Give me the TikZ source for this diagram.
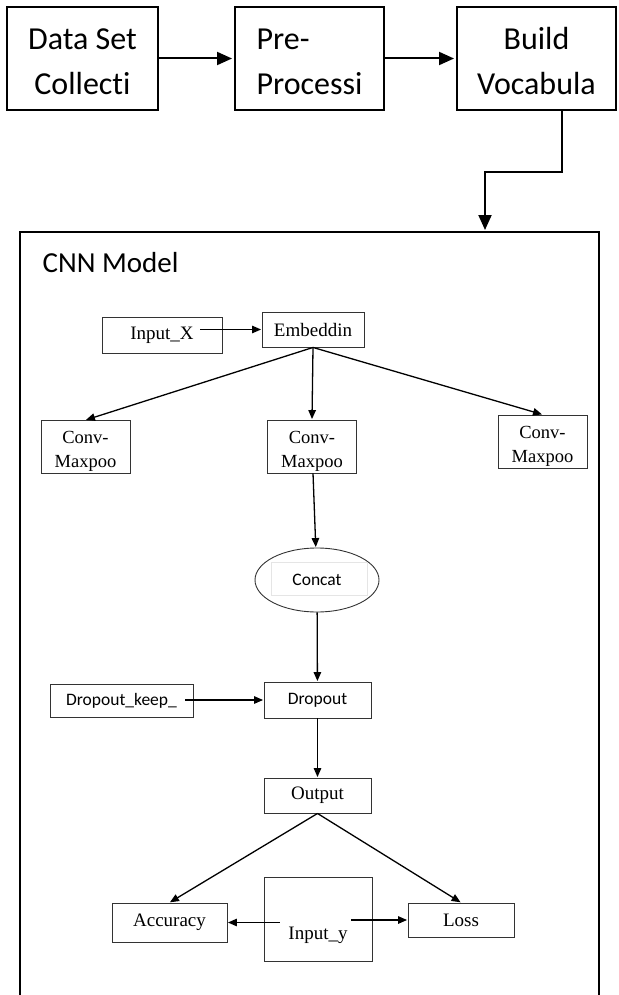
\documentclass[tikz,border=0pt]{standalone}
\usepackage{fontspec}
\setmainfont{Carlito}[Ligatures=NoCommon]
\newfontfamily\timesfont{Liberation Serif}
\usetikzlibrary{arrows.meta,shapes.geometric}

\begin{document}
\begin{tikzpicture}[->,>={Triangle[length=9pt,width=7.5pt]},shorten >=0.5pt,
      x=1pt,y=1pt,line width=1.3pt,node distance=227pt,
      topbox/.style={draw,line width=2pt,minimum width=151pt,minimum height=103pt,
        align=center,text height=73pt,text depth=0pt,font=\fontsize{32}{45}\selectfont},
      serifbox/.style={draw=black!80,line width=0.9pt,
        font=\timesfont\fontsize{19}{23}\selectfont},
      convbox/.style={serifbox,minimum width=89pt,minimum height=53pt,align=center,
        text height=41pt,text depth=0pt,font=\timesfont\fontsize{18.5}{24}\selectfont},
      calbox/.style={draw=black!80,line width=0.9pt,font=\fontsize{17.5}{21}\selectfont},
      big/.style={line width=2pt,shorten >=2pt,-{Triangle[length=15pt,width=13pt]}},
      frame/.style={-,line width=1.4pt}]

    \useasboundingbox (0,0) rectangle (618,-995);

    % pipeline
    \node[topbox] (data) at (82.5,-58.5) {Data Set\\Collecti};
    \node[topbox,minimum width=149pt,align=left] (pre) [right of=data] {Pre-\\Processi};
    \node[topbox,minimum width=159pt] (vocab) [right of=pre] {Build\\Vocabula};

    \coordinate (bend) at (485,-172);
    \coordinate (cnntop) at (485,-232);

    \path[big] (data) edge (pre)
    (pre) edge (vocab);
    \draw[big] ([xshift=25.5pt]vocab.south) |- (bend) -- (cnntop);

    % CNN model
    \draw[frame] (20,-995) |- (599,-232) -- (599,-995);
    \node[anchor=base west,inner sep=0pt,font=\fontsize{29}{35}\selectfont] (cnnlabel)
      at (42,-272) {CNN Model};

    \node[serifbox,minimum width=120pt,minimum height=36pt] (inx) at (162,-335) {Input\_X};
    \node[serifbox,minimum width=102pt,minimum height=35pt] (embed) at (313,-329.5) {Embeddin};
    \node[convbox] (convl) at (85.5,-447) {Conv-\\Maxpoo};
    \node[convbox] (convm) at (312,-446.5) {Conv-\\Maxpoo};
    \node[convbox] (convr) at (542.5,-441.5) {Conv-\\Maxpoo};
    \node[ellipse,draw=black!80,line width=0.9pt,minimum width=124pt,minimum height=64pt,
      font=\fontsize{17.5}{21}\selectfont] (concat) at (317,-580) {Concat};
    \draw[-,gray!20,line width=0.6pt] (271,-562) rectangle (367,-595);
    \node[calbox,minimum width=143pt,minimum height=33pt] (keep) at (121.5,-700.5) {Dropout\_keep\_};
    \node[calbox,minimum width=107pt,minimum height=36pt] (drop) at (317.5,-700) {Dropout};
    \node[serifbox,minimum width=107pt,minimum height=35pt] (out) at (317.5,-795.5) {Output};
    \node[serifbox,minimum width=115pt,minimum height=39pt] (acc) at (169.5,-922.5) {Accuracy};
    \node[serifbox,minimum width=108pt,minimum height=84pt,text height=40pt,text depth=0pt]
      (inputy) at (318,-919) {Input\_y};
    \node[serifbox,minimum width=106pt,minimum height=34pt] (loss) at (461,-920) {Loss};

    \coordinate (inxout) at ([xshift=-22pt]inx.east);
    \coordinate (keepout) at ([xshift=-8pt]keep.east);
    \coordinate (yleft) at ([xshift=16pt]inputy.west);
    \coordinate (yright) at ([xshift=-21pt]inputy.east);

    \draw (inxout |- embed.west) -- (embed.west);
    \path (embed.south) edge (convl.north)
    edge (convm.north)
    edge (convr.north)
    (convm) edge (concat)
    (concat) edge (drop)
    (drop) edge (out)
    (out.south) edge (acc.north)
    edge (loss.north);
    \draw (keepout |- drop.west) -- (drop.west);
    \draw (yleft |- acc.east) -- (acc.east);
    \draw (yright |- loss.west) -- (loss.west);
  \end{tikzpicture}
\end{document}
